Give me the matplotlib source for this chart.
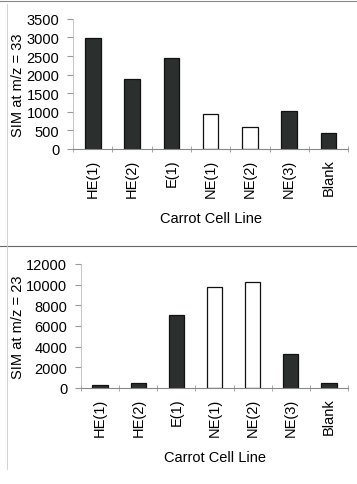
import matplotlib
matplotlib.use("Agg")
import matplotlib.pyplot as plt
from matplotlib.lines import Line2D
import numpy as np

plt.rcParams["font.family"] = ["Liberation Sans", "DejaVu Sans"]

CATEGORIES = ["HE(1)", "HE(2)", "E(1)", "NE(1)", "NE(2)", "NE(3)", "Blank"]
SIM_33 = [2990, 1890, 2460, 950, 590, 1010, 440]
SIM_23 = [290, 490, 7020, 9800, 10220, 3300, 520]
OPEN_BARS = [False, False, False, True, True, False, False]

DARK = "#2b302f"


def draw_panel(ax, values, ylabel, ymax, ystep):
    x = np.arange(len(CATEGORIES))
    faces = ["white" if o else DARK for o in OPEN_BARS]
    ax.bar(x, values, width=0.4, color=faces, edgecolor="#111111", linewidth=0.9)
    ax.set_xlim(-0.5, len(CATEGORIES) - 0.5)
    ax.set_ylim(0, ymax)
    ax.set_yticks(np.arange(0, ymax + 1, ystep))
    ax.set_xticks(x)
    ax.set_xticklabels(CATEGORIES, rotation=90, fontsize=10.5)
    ax.set_xticks(np.arange(-0.5, len(CATEGORIES), 1.0), minor=True)
    ax.tick_params(axis="x", which="major", length=0, pad=7)
    ax.tick_params(axis="x", which="minor", length=4, direction="inout",
                   color="#999999")
    ax.tick_params(axis="y", length=4, color="#999999", labelsize=10.5, pad=6)
    ax.set_ylabel(ylabel, fontsize=10.5, labelpad=1)
    ax.set_xlabel("Carrot Cell Line", fontsize=10.5, labelpad=10)
    for s in ("top", "right"):
        ax.spines[s].set_visible(False)
    ax.spines["left"].set_color("#bbbbbb")
    ax.spines["left"].set_linewidth(0.6)
    ax.spines["bottom"].set_color("#888888")
    ax.spines["bottom"].set_linewidth(0.8)


fig = plt.figure(figsize=(3.57, 4.85), dpi=100)
ax1 = fig.add_axes([0.205, 0.691, 0.77, 0.268])
ax2 = fig.add_axes([0.227, 0.198, 0.748, 0.256])

draw_panel(ax1, SIM_33, "SIM at m/z = 33", 3500, 500)
draw_panel(ax2, SIM_23, "SIM at m/z = 23", 12000, 2000)

# scan-page separator lines
fig.add_artist(Line2D([0.0, 1.0], [0.995, 0.995], color="#888888", linewidth=0.8))
fig.add_artist(Line2D([0.0, 1.0], [0.49, 0.49], color="#666666", linewidth=0.8))
fig.add_artist(Line2D([0.02, 0.02], [0.03, 0.99], color="#cccccc", linewidth=0.6))

fig.savefig("out.png", dpi=100)
